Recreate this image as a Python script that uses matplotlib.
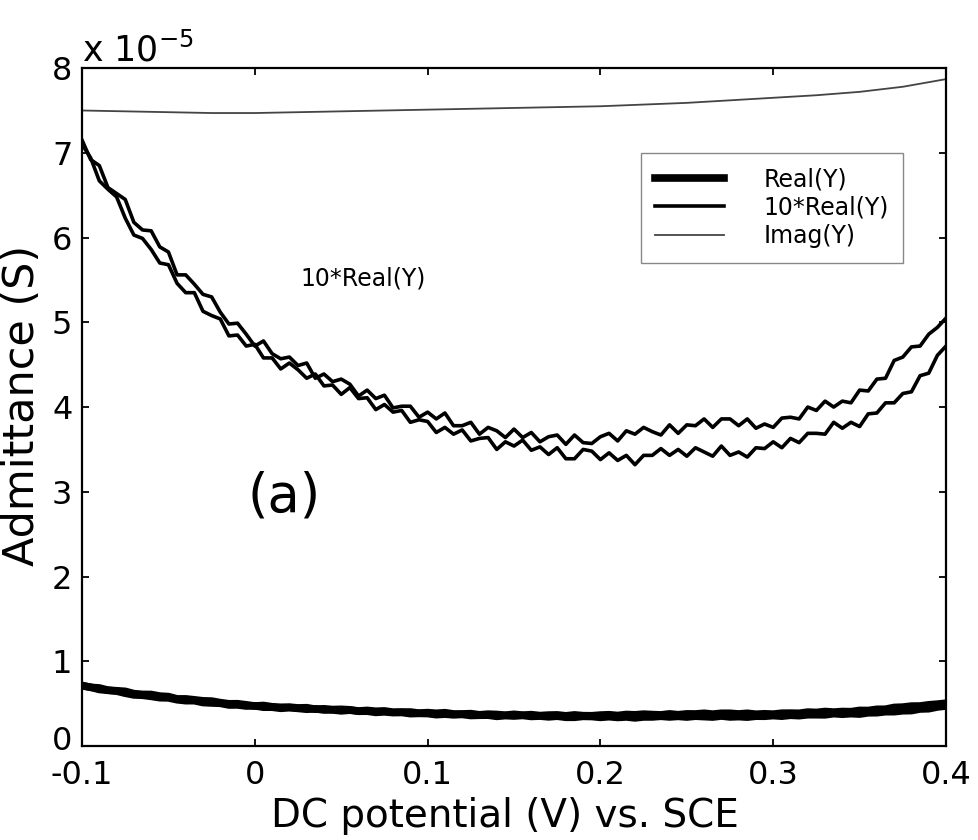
import numpy as np
import matplotlib
matplotlib.use("Agg")
import matplotlib.pyplot as plt
import matplotlib.transforms as mtransforms

plt.rcParams['font.family'] = ['DejaVu Sans']
plt.rcParams['axes.unicode_minus'] = False

# potential grid (V vs. SCE), 0.005 V steps
potential = np.linspace(-0.1, 0.4, 101)

# 10*Real(Y), sweep A (upper branch at high potential), units of 1e-5 S
real10_a = [7.15, 6.92, 6.85, 6.59, 6.52, 6.45, 6.18, 6.09, 6.08, 5.89,
            5.83, 5.56, 5.56, 5.45, 5.33, 5.30, 5.12, 4.98, 4.99, 4.86,
            4.72, 4.78, 4.63, 4.57, 4.59, 4.49, 4.52, 4.34, 4.39, 4.30,
            4.33, 4.27, 4.13, 4.20, 4.10, 4.14, 3.99, 4.01, 4.01, 3.88,
            3.94, 3.86, 3.93, 3.78, 3.78, 3.82, 3.68, 3.76, 3.72, 3.64,
            3.74, 3.64, 3.70, 3.59, 3.65, 3.67, 3.56, 3.67, 3.58, 3.57,
            3.65, 3.69, 3.60, 3.72, 3.68, 3.76, 3.71, 3.67, 3.79, 3.69,
            3.79, 3.78, 3.86, 3.76, 3.86, 3.86, 3.78, 3.86, 3.75, 3.80,
            3.76, 3.87, 3.88, 3.86, 4.00, 3.96, 4.07, 4.00, 4.07, 4.05,
            4.20, 4.19, 4.33, 4.34, 4.55, 4.59, 4.71, 4.72, 4.86, 4.94,
            5.05]

# 10*Real(Y), sweep B (lower branch at high potential)
real10_b = [7.10, 6.94, 6.67, 6.57, 6.48, 6.23, 6.03, 5.99, 5.86, 5.70,
            5.68, 5.46, 5.35, 5.35, 5.13, 5.08, 5.04, 4.84, 4.85, 4.72,
            4.74, 4.58, 4.58, 4.45, 4.52, 4.44, 4.34, 4.39, 4.25, 4.26,
            4.15, 4.23, 4.10, 4.11, 3.97, 4.03, 3.94, 3.96, 3.82, 3.85,
            3.83, 3.70, 3.76, 3.68, 3.73, 3.60, 3.63, 3.64, 3.50, 3.59,
            3.54, 3.61, 3.49, 3.53, 3.44, 3.52, 3.39, 3.39, 3.50, 3.48,
            3.38, 3.46, 3.37, 3.43, 3.32, 3.43, 3.43, 3.51, 3.43, 3.50,
            3.42, 3.52, 3.47, 3.42, 3.54, 3.43, 3.47, 3.41, 3.52, 3.51,
            3.59, 3.52, 3.63, 3.58, 3.69, 3.69, 3.68, 3.82, 3.75, 3.82,
            3.77, 3.92, 3.93, 4.05, 4.05, 4.16, 4.18, 4.37, 4.40, 4.61,
            4.72]

# Imag(Y), units of 1e-5 S, 0.025 V steps
imag_potential = np.linspace(-0.1, 0.4, 21)
imag_y = [7.50, 7.49, 7.48, 7.47, 7.47, 7.48, 7.49, 7.50, 7.51, 7.52, 7.53,
          7.54, 7.55, 7.57, 7.59, 7.62, 7.65, 7.68, 7.72, 7.78, 7.87]

x_ticks = [-0.1, 0, 0.1, 0.2, 0.3, 0.4]
x_ticklabels = ['-0.1', '0', '0.1', '0.2', '0.3', '0.4']
y_ticks = [0, 1, 2, 3, 4, 5, 6, 7, 8]

real_a = np.array(real10_a) / 10.0
real_b = np.array(real10_b) / 10.0

fig = plt.figure(figsize=(9.79, 8.40), dpi=100)
ax = fig.add_axes([0.0838, 0.1119, 0.8825, 0.807])

ax.plot(potential, real_a, color='black', lw=5.5, label='Real(Y)', solid_joinstyle='round')
ax.plot(potential, real_b, color='black', lw=5.5, solid_joinstyle='round')
ax.plot(potential, real10_a, color='black', lw=2.6, label='10*Real(Y)', solid_joinstyle='round')
ax.plot(potential, real10_b, color='black', lw=2.6, solid_joinstyle='round')
ax.plot(imag_potential, imag_y, color='#444444', lw=1.3, label='Imag(Y)')

ax.set_xlim(-0.1, 0.4)
ax.set_ylim(0, 8)
ax.set_xticks(x_ticks)
ax.set_xticklabels(x_ticklabels)
ax.set_yticks(y_ticks)
ax.tick_params(direction='in', length=5, width=1.3, top=True, right=True,
               labelsize=23)
ax.tick_params(axis='x', pad=10)
ax.tick_params(axis='y', pad=7)
for s in ax.spines.values():
    s.set_linewidth(1.6)
    s.set_color('black')

# nudge the bottom y tick label up a little so it does not collide with "-0.1"
ylab0 = ax.get_yticklabels()[0]
ylab0.set_transform(ylab0.get_transform() +
                    mtransforms.ScaledTranslation(0, 6 / 72, fig.dpi_scale_trans))

ax.set_xlabel('DC potential (V) vs. SCE', fontsize=28)
ax.xaxis.set_label_coords(0.49, -0.075)
ax.set_ylabel('Admittance (S)', fontsize=31)
ax.yaxis.set_label_coords(-0.045, 0.503)

fig.text(82 / 979, 1 - 62 / 840, r'x 10$^{-5}$', fontsize=25, ha='left', va='baseline')

ax.text(0.0262, 5.52, '10*Real(Y)', fontsize=17, ha='left', va='center')
ax.text(-0.004, 2.95, '(a)', fontsize=38, ha='left', va='center')

leg = ax.legend(loc='upper left', bbox_to_anchor=(0.647, 0.875), borderaxespad=0,
                fontsize=17, handlelength=2.9, handletextpad=1.7, labelspacing=0.2,
                borderpad=0.6, fancybox=False, framealpha=1)
leg.get_frame().set_edgecolor('#888888')
leg.get_frame().set_linewidth(1.0)

fig.savefig('out.png', dpi=100)
